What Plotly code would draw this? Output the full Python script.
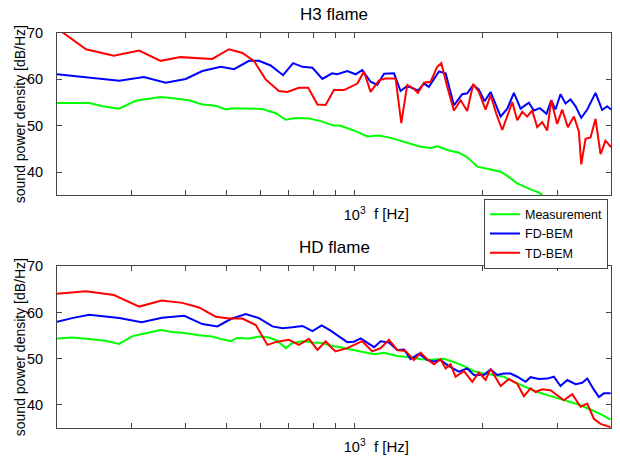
import plotly.graph_objects as go
import math

# ---------------- data ----------------
# H3 flame (top panel)
h3_meas_f = [200, 238, 256, 280, 306, 323, 350, 370, 408, 439, 472, 498, 516, 586, 607, 653, 689, 727, 781, 840,
             887, 927, 996, 1071, 1140, 1215, 1329, 1429, 1508, 1564, 1651, 1757, 1839, 1941, 2086, 2201, 2283,
             2409, 2589, 2709, 2809, 3100, 3581, 4000]
h3_meas_v = [54.9, 54.9, 54.2, 53.7, 55.4, 55.7, 56.2, 56.0, 55.5, 54.6, 54.3, 53.5, 53.8, 53.7, 53.6, 52.7, 51.3,
             51.7, 51.6, 50.9, 50.1, 50.0, 49.0, 47.7, 47.9, 47.4, 46.4, 45.5, 45.2, 45.6, 44.8, 44.2, 43.2, 41.2,
             40.6, 40.1, 39.2, 37.6, 36.3, 35.6, 34.5, 32.5, 29.5, 27.0]

h3_fd_f = [200, 238, 280, 320, 360, 401, 439, 485, 521, 565, 596, 635, 679, 717, 754, 796, 840, 885, 911, 961,
           1005, 1042, 1090, 1130, 1172, 1237, 1282, 1329, 1408, 1455, 1494, 1578, 1636, 1711, 1789, 1838, 1899,
           1958, 2019, 2086, 2202, 2283, 2366, 2453, 2565, 2636, 2723, 2822, 2894, 2963, 3044, 3128, 3214, 3303,
           3405, 3518, 3679, 3814, 3918, 4000]
h3_fd_v = [61.1, 60.4, 59.7, 60.5, 59.3, 60.1, 61.8, 62.7, 62.2, 64.0, 64.0, 63.0, 60.9, 63.5, 62.7, 62.5, 60.1,
           61.3, 61.1, 61.8, 61.1, 62.0, 59.5, 58.8, 61.2, 61.3, 57.5, 58.6, 57.6, 59.1, 58.4, 61.7, 61.3, 54.4,
           56.8, 57.0, 58.8, 57.8, 55.3, 57.3, 52.0, 53.7, 57.1, 53.7, 55.0, 53.3, 53.8, 52.6, 55.5, 53.5, 56.8,
           54.8, 55.7, 54.2, 51.7, 53.5, 57.1, 53.4, 54.2, 53.5]

h3_td_f = [200, 234, 272, 312, 350, 390, 463, 507, 545, 580, 618, 664, 695, 740, 778, 818, 855, 894, 944, 1015,
           1052, 1090, 1141, 1182, 1248, 1287, 1329, 1373, 1408, 1455, 1508, 1563, 1598, 1650, 1711, 1774, 1838,
           1899, 1958, 2030, 2086, 2151, 2222, 2283, 2345, 2409, 2475, 2542, 2612, 2684, 2757, 2833, 2894, 2990,
           3072, 3168, 3273, 3362, 3405, 3486, 3581, 3679, 3780, 3883, 4000]
h3_td_v = [71.0, 66.5, 65.1, 66.2, 64.0, 64.8, 64.4, 66.5, 65.7, 64.0, 60.0, 57.5, 57.3, 58.2, 58.2, 54.6, 54.5,
           57.7, 57.7, 59.1, 61.7, 57.3, 59.8, 60.2, 60.2, 50.6, 58.8, 58.1, 57.1, 59.3, 59.5, 62.7, 63.5, 58.4,
           53.3, 55.5, 53.2, 59.0, 57.3, 53.5, 56.6, 52.6, 49.1, 52.0, 55.1, 51.2, 53.0, 52.0, 53.3, 49.7, 50.8,
           49.0, 55.5, 50.4, 53.5, 49.7, 52.0, 48.8, 41.7, 47.2, 47.5, 51.5, 43.9, 46.8, 45.4]

# HD flame (bottom panel)
hd_meas_f = [200, 217, 238, 260, 280, 301, 323, 350, 373, 398, 431, 463, 489, 512, 530, 565, 596, 629, 658, 689,
             714, 754, 796, 840, 880, 927, 979, 1071, 1111, 1172, 1259, 1353, 1429, 1508, 1621, 1711, 1806, 1906,
             2012, 2124, 2241, 2366, 2497, 2684, 2884, 3100, 3332, 3581, 3780, 3990]
hd_meas_v = [54.4, 54.6, 54.3, 53.9, 53.2, 54.9, 55.5, 56.2, 55.8, 55.6, 55.1, 54.8, 54.2, 53.8, 54.5, 54.4, 54.8,
             54.6, 53.9, 52.3, 53.4, 53.8, 53.5, 53.4, 52.8, 52.5, 52.0, 51.2, 51.0, 51.3, 50.6, 50.3, 49.9, 49.8,
             50.0, 49.3, 48.4, 47.3, 46.8, 46.5, 46.1, 45.0, 44.1, 42.8, 41.9, 41.1, 40.2, 39.0, 38.0, 36.8]

hd_fd_f = [200, 217, 238, 280, 316, 353, 398, 439, 476, 512, 555, 596, 641, 677, 714, 754, 796, 837, 878, 899,
           927, 961, 996, 1033, 1111, 1151, 1204, 1259, 1306, 1353, 1416, 1481, 1536, 1592, 1665, 1757, 1838,
           1906, 2012, 2086, 2162, 2241, 2324, 2409, 2520, 2589, 2709, 2833, 2937, 3044, 3157, 3303, 3423, 3518,
           3646, 3746, 3848, 3990]
hd_fd_v = [58.0, 58.8, 59.5, 58.8, 57.9, 58.9, 59.3, 57.5, 57.0, 58.6, 59.7, 58.8, 57.0, 56.6, 56.8, 57.1, 56.0,
           57.2, 56.1, 55.4, 54.6, 53.6, 53.7, 54.4, 52.5, 53.8, 53.5, 51.9, 52.0, 49.9, 51.1, 49.7, 49.4, 49.7,
           48.4, 47.2, 47.9, 46.5, 46.5, 47.7, 46.5, 46.8, 46.8, 46.1, 45.0, 46.0, 45.6, 45.7, 46.1, 44.1, 45.4,
           44.5, 44.8, 45.7, 43.3, 41.7, 42.5, 42.5]

hd_td_f = [200, 234, 272, 312, 352, 394, 431, 472, 507, 545, 586, 624, 658, 701, 740, 781, 818, 855, 878, 902,
           961, 1042, 1100, 1151, 1204, 1259, 1317, 1378, 1429, 1481, 1536, 1592, 1636, 1680, 1726, 1806, 1889,
           1958, 2030, 2086, 2202, 2303, 2409, 2497, 2589, 2660, 2757, 2884, 2990, 3100, 3243, 3393, 3518, 3646,
           3780, 3883, 3990]
hd_td_v = [64.1, 64.6, 63.8, 61.3, 62.6, 62.1, 61.1, 59.1, 58.7, 58.7, 57.3, 53.0, 53.7, 54.1, 53.0, 54.3, 51.9,
           53.8, 52.6, 51.6, 52.3, 53.8, 51.6, 52.3, 54.1, 51.9, 51.7, 49.7, 51.3, 49.9, 48.8, 49.9, 47.9, 48.8,
           46.1, 47.3, 45.0, 47.0, 45.4, 47.8, 44.1, 45.6, 44.6, 41.9, 43.6, 42.8, 43.4, 43.2, 42.1, 41.0, 42.3,
           39.6, 40.3, 37.0, 35.9, 35.5, 35.2]

series_names = ["Measurement", "FD-BEM", "TD-BEM"]
series_colors = ["#00ff00", "#0000ff", "#ff0000"]
panel_titles = ["H3 flame", "HD flame"]
x_major_tickvals = [1000]
x_major_ticktext = ["10<sup>3</sup>"]
x_minor_tickvals = [200, 300, 400, 500, 600, 700, 800, 900, 2000, 3000, 4000]
y_tickvals = [40, 50, 60, 70]
y_range = [35, 70]
x_range_hz = [200, 4000]
ylabel = "sound power density [dB/Hz]"
xlabel = "f [Hz]"

# ---------------- figure ----------------
FONT = "Liberation Sans, Arial, Helvetica, sans-serif"
fig = go.Figure()

panels = [
    [(h3_meas_f, h3_meas_v), (h3_fd_f, h3_fd_v), (h3_td_f, h3_td_v)],
    [(hd_meas_f, hd_meas_v), (hd_fd_f, hd_fd_v), (hd_td_f, hd_td_v)],
]
for p, panel in enumerate(panels):
    xa = "x" if p == 0 else "x2"
    ya = "y" if p == 0 else "y2"
    for k, (fx, fv) in enumerate(panel):
        fig.add_trace(go.Scatter(
            x=fx, y=fv, mode="lines", name=series_names[k],
            line=dict(color=series_colors[k], width=2),
            xaxis=xa, yaxis=ya, showlegend=(p == 0)))

# the page body's default 8 px margin is removed after plotting (post_script below)
W, H = 620, 456
# target pixels of the plot areas
sx0, sx1 = 57.0, 611.0
sy_top1, sy_bot1 = 33.3, 195.7
sy_top2, sy_bot2 = 266.7, 428.3
ml = sx0
mr = W - sx1
mt = sy_top1
mb = H - sy_bot2
pw, ph = W - ml - mr, H - mt - mb


def px(sx):  # pixel x -> paper x
    return (sx - ml) / pw


def py(sy):  # pixel y -> paper y
    return (H - mb - sy) / ph


top_dom = [py(sy_bot1), py(sy_top1)]
bot_dom = [py(sy_bot2), py(sy_top2)]

axis_common = dict(showline=True, linecolor="#444444", linewidth=1, mirror="ticks", automargin=False,
                   ticks="inside", ticklen=5, tickcolor="#444444", showgrid=False, zeroline=False,
                   tickfont=dict(family=FONT, size=14.5, color="#000000"))
xaxis_common = dict(axis_common, type="log",
                    range=[math.log10(x_range_hz[0]), math.log10(x_range_hz[1])],
                    tickmode="array", tickvals=x_major_tickvals, ticktext=x_major_ticktext,
                    ticklabelstandoff=6,
                    minor=dict(tickmode="array", tickvals=x_minor_tickvals, ticks="inside",
                               ticklen=5, tickcolor="#444444", showgrid=False))
yaxis_common = dict(axis_common, range=y_range, tickmode="array", tickvals=y_tickvals,
                    ticklabelstandoff=10)

fig.update_layout(
    width=W, height=H,
    margin=dict(l=ml, r=mr, t=mt, b=mb, pad=0, autoexpand=False),
    paper_bgcolor="white", plot_bgcolor="white",
    font=dict(family=FONT, size=13, color="#000000"),
    xaxis=dict(xaxis_common, domain=[0, 1], anchor="y"),
    yaxis=dict(yaxis_common, domain=top_dom, anchor="x"),
    xaxis2=dict(xaxis_common, domain=[0, 1], anchor="y2"),
    yaxis2=dict(yaxis_common, domain=bot_dom, anchor="x2"),
    legend=dict(x=px(484.0), y=py(199.0), xanchor="left", yanchor="top",
                bordercolor="#444444", borderwidth=1, bgcolor="white",
                font=dict(family=FONT, size=12.5), tracegroupgap=0, itemwidth=30),
    showlegend=True,
)

annos = []
for p, (stop, sbot) in enumerate([(sy_top1, sy_bot1), (sy_top2, sy_bot2)]):
    annos.append(dict(text=panel_titles[p], xref="paper", yref="paper", x=px((sx0 + sx1) / 2),
                      y=py(stop - 18.5), xanchor="center", yanchor="middle", showarrow=False,
                      font=dict(family=FONT, size=17)))
    annos.append(dict(text=xlabel, xref="paper", yref="paper", x=px(391),
                      y=py(sbot + 18), xanchor="center", yanchor="middle", showarrow=False,
                      font=dict(family=FONT, size=15)))
    annos.append(dict(text=ylabel, xref="paper", yref="paper", x=px(20),
                      y=py((stop + sbot) / 2), xanchor="center", yanchor="middle", showarrow=False,
                      textangle=-90, font=dict(family=FONT, size=14)))
fig.update_layout(annotations=annos)

fig.write_html("out.html", config={"displayModeBar": False},
               post_script="document.body.style.margin='0px';document.body.style.overflow='hidden';")
